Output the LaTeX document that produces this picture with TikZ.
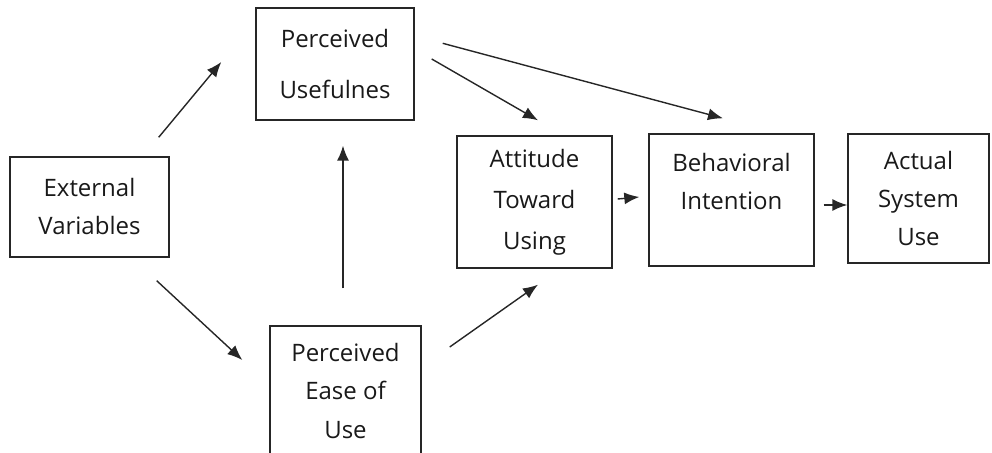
\documentclass[tikz,border=0pt]{standalone}
\usepackage{fontspec}
\setmainfont{Open Sans}
\usetikzlibrary{arrows.meta}

\begin{document}
\begin{tikzpicture}[x=1pt, y=1pt,
        >={Latex[length=15pt,width=12pt]},
        box/.style={draw=black!85, line width=1.4pt, align=center, inner sep=0pt,
            text=black!90, font=\fontsize{24}{38}\selectfont},
        link/.style={->, line width=1.4pt, draw=black!85}]
        \path[use as bounding box, clip] (0,0) rectangle (992,452);

        % Nodes
        \node[box, minimum width=159pt, minimum height=100pt] (EV) at (89.5,245) {External\\Variables};
        \node[box, minimum width=158pt, minimum height=112pt] (PU) at (335,388) {Perceived\\[13pt]Usefulnes};
        \node[box, minimum width=151pt, minimum height=130pt] (PEOU) at (345.5,61) {Perceived\\Ease of\\Use};
        \node[box, minimum width=155pt, minimum height=132pt, font=\fontsize{24}{41}\selectfont] (ATU) at (534.5,250) {Attitude\\Toward\\Using};
        \node[box, minimum width=165pt, minimum height=132pt] (BI) at (731.5,252) {Behavioral\\Intention\\\phantom{X}};
        \node[box, minimum width=141pt, minimum height=129pt] (ASU) at (918.5,253.5) {Actual\\System\\Use};

        % Arrows
        \draw[link] ([shift={(-11,19)}]EV.north east) -- ([shift={(-34,2)}]PU.west);
        \draw[link] ([shift={(-13,-23)}]EV.south east) -- ([shift={(-27,31)}]PEOU.west);
        \draw[link] ([shift={(-2.5,37)}]PEOU.north) -- ([shift={(8,-25)}]PU.south);
        \draw[link] ([shift={(17,5)}]PU.east) -- ([shift={(3.5,15)}]ATU.north);
        \draw[link] ([shift={(28,-36)}]PU.north east) -- ([shift={(-8.5,15)}]BI.north);
        \draw[link] ([shift={(28,44)}]PEOU.east) -- ([shift={(3.5,-16)}]ATU.south);
        \draw[link] ([shift={(5,3)}]ATU.east) -- ([shift={(-9,3)}]BI.west);
        \draw[link] ([shift={(9,-5)}]BI.east) -- ([shift={(0,-6.5)}]ASU.west);
    \end{tikzpicture}
\end{document}
